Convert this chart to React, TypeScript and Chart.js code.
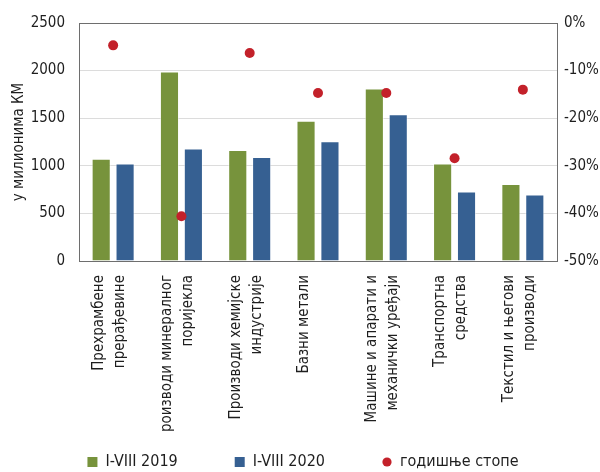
import React, { useEffect, useRef } from "react";
import { Chart, registerables } from "chart.js";

Chart.register(...registerables);

const categories: (string | string[])[] = [
  ["Прехрамбене", "прерађевине"],
  ["Производи минералног", "поријекла"],
  ["Производи хемијске", "индустрије"],
  "Базни метали",
  ["Машине и апарати и", "механички уређаји"],
  ["Транспортна", "средства"],
  ["Текстил и његови", "производи"],
];
const values2019 = [1074, 1991, 1167, 1474, 1811, 1023, 809];
const values2020 = [1023, 1181, 1092, 1257, 1542, 730, 699];
const annualRates = [-4.7, -40.6, -6.3, -14.7, -14.7, -28.4, -14.0];
const leftTicks = { min: 0, max: 2500, step: 500 };
const rightTicks = { min: -50, max: 0, step: 10 };

const FONT = "'Liberation Sans Narrow', 'DejaVu Sans Condensed', 'Noto Sans', sans-serif";
const GREEN = "#77933c";
const BLUE = "#366092";
const RED = "#c3212a";
const AXIS = "#6e6e6e";
const GRID = "#dcdcdc";
const TEXT = "#1e1e1e";

const LEGEND_PAD = 57;
const LEGEND_ROW_Y = 454;
const LEGEND_SHIFT_X = 3;

const legendPlacer = {
  id: "legendPlacer",
  afterLayout(chart: any) {
    const lg = chart.legend;
    if (!lg) return;
    lg.top = LEGEND_ROW_Y - LEGEND_PAD;
    lg.bottom = chart.height;
    lg.height = lg.bottom - lg.top;
    lg.left += LEGEND_SHIFT_X;
    lg.right += LEGEND_SHIFT_X;
  },
};

function makeDot(): HTMLCanvasElement {
  const c = document.createElement("canvas");
  c.width = 10;
  c.height = 10;
  const g = c.getContext("2d");
  if (g) {
    g.fillStyle = RED;
    g.beginPath();
    g.arc(5, 5, 4.6, 0, Math.PI * 2);
    g.fill();
  }
  return c;
}

export default function App() {
  const ref = useRef<HTMLCanvasElement | null>(null);

  useEffect(() => {
    if (!ref.current) return;
    Chart.defaults.font.family = FONT;
    const dot = makeDot();
    const chart = new Chart(ref.current, {
      type: "bar",
      data: {
        labels: categories,
        datasets: [
          {
            type: "bar",
            label: "I-VIII 2019",
            data: values2019,
            backgroundColor: GREEN,
            borderColor: "rgba(255,255,255,0.55)",
            borderWidth: 1,
            yAxisID: "y",
            order: 1,
            pointStyle: "rect",
            categoryPercentage: 0.7,
            barPercentage: 0.8,
          } as any,
          {
            type: "bar",
            label: "I-VIII 2020",
            data: values2020,
            backgroundColor: BLUE,
            borderColor: "rgba(255,255,255,0.55)",
            borderWidth: 1,
            yAxisID: "y",
            order: 1,
            pointStyle: "rect",
            categoryPercentage: 0.7,
            barPercentage: 0.8,
          } as any,
          {
            type: "line",
            label: "годишње стопе",
            data: annualRates,
            yAxisID: "y1",
            showLine: false,
            pointStyle: "circle",
            pointRadius: 5,
            backgroundColor: RED,
            borderColor: RED,
            pointBorderWidth: 0,
            order: 0,
          } as any,
        ],
      },
      plugins: [legendPlacer],
      options: {
        animation: false,
        responsive: false,
        layout: { padding: { top: 19, left: 0, right: 0, bottom: 0 } },
        plugins: {
          tooltip: { enabled: false },
          legend: {
            position: "bottom",
            maxHeight: 41,
            labels: {
              usePointStyle: true,
              boxWidth: 10,
              boxHeight: 10,
              padding: LEGEND_PAD,
              color: TEXT,
              font: { size: 16, family: FONT },
              sort: (a: any, b: any) => a.datasetIndex - b.datasetIndex,
              generateLabels: (ch: any) => {
                const items = (Chart.defaults as any).plugins.legend.labels.generateLabels(ch);
                items.forEach((it: any) => {
                  if (it.datasetIndex === 2) it.pointStyle = dot;
                  it.lineWidth = 0;
                });
                return items;
              },
            },
          } as any,
        },
        scales: {
          x: {
            grid: { display: false, drawTicks: false },
            border: { color: AXIS, width: 1 },
            ticks: {
              color: TEXT,
              font: { size: 15, family: FONT, lineHeight: 1.4 },
              maxRotation: 90,
              minRotation: 90,
              autoSkip: false,
              padding: 14,
              labelOffset: -14,
            },
            afterFit: (s: any) => {
              s.height = 170;
            },
          },
          y: {
            position: "left",
            min: leftTicks.min,
            max: leftTicks.max,
            ticks: {
              stepSize: leftTicks.step,
              color: TEXT,
              font: { size: 15, family: FONT },
              padding: 14,
              callback: (v: any) => String(v),
            },
            grid: {
              drawTicks: false,
              color: (c: any) => (c.tick && c.tick.value === leftTicks.max ? AXIS : GRID),
            },
            border: { color: AXIS, width: 1 },
            title: {
              display: true,
              text: "у милионима КМ",
              color: TEXT,
              font: { size: 15, family: FONT },
              padding: { top: 10, bottom: 0 },
            },
            afterFit: (s: any) => {
              s.width = 79;
            },
          },
          y1: {
            position: "right",
            min: rightTicks.min,
            max: rightTicks.max,
            ticks: {
              stepSize: rightTicks.step,
              color: TEXT,
              font: { size: 15, family: FONT },
              padding: 7,
              callback: (v: any) => `${v}%`,
            },
            grid: { display: false, drawTicks: false },
            border: { color: AXIS, width: 1 },
            afterFit: (s: any) => {
              s.width = 43;
            },
          },
        },
      },
    });
    return () => chart.destroy();
  }, []);

  return (
    <div style={{ position: "absolute", left: 0, top: 0, width: 600, height: 472, background: "#fff" }}>
      <canvas ref={ref} width={600} height={472} />
    </div>
  );
}
